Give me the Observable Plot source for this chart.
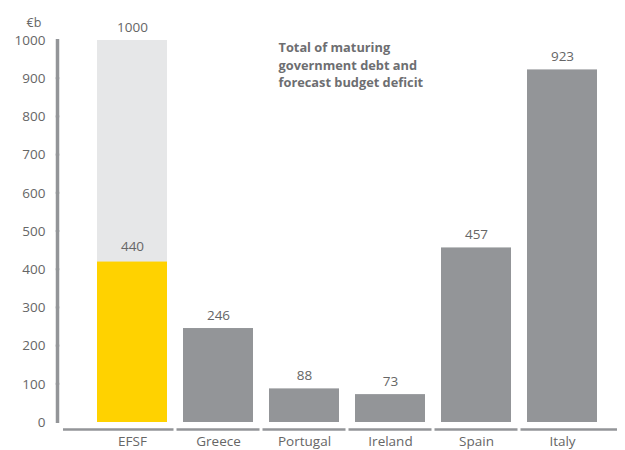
<!DOCTYPE html>
<html>
<head>
<meta charset="utf-8">
<script src="https://cdn.jsdelivr.net/npm/d3@7"></script>
<script src="https://cdn.jsdelivr.net/npm/@observablehq/plot@0.6"></script>
<style>
  html, body { margin: 0; padding: 0; background: #fff; }
  svg { font-family: "Open Sans", sans-serif; }
</style>
</head>
<body>
<div id="chart"></div>
<script>
const categories = ["EFSF", "Greece", "Portugal", "Ireland", "Spain", "Italy"];
const totals = [1000, 246, 88, 73, 457, 923];
const totalLabels = ["1000", "246", "88", "73", "457", "923"];
const efsfCommitted = 420;
const efsfCommittedLabel = "440";
const yTicks = [0, 100, 200, 300, 400, 500, 600, 700, 800, 900, 1000];
const unitLabel = "€b";
const annotation = "Total of maturing\ngovernment debt and\nforecast budget deficit";

const data = categories.map((c, i) => ({cat: c, value: totals[i], label: totalLabels[i]}));
const segments = yTicks.slice(1).map((t, i) => ({y1: yTicks[i], y2: t}));

const grey = "#939598";
const light = "#e6e7e8";
const yellow = "#ffd200";
const textCol = "#666666";

const chart = Plot.plot({
  width: 625,
  height: 450,
  marginLeft: 81,
  marginRight: 12,
  marginTop: 40,
  marginBottom: 28,
  style: {fontFamily: "Open Sans, sans-serif", fontSize: "13px", color: textCol},
  x: {domain: categories, padding: 0.186, label: null},
  y: {domain: [0, 1000], label: null},
  marks: [
    Plot.barY(data, {x: "cat", y: "value", fill: d => d.cat === "EFSF" ? light : grey}),
    Plot.barY([efsfCommitted], {x: () => categories[0], y: d => d, fill: yellow}),
    Plot.text(data, {x: "cat", y: "value", text: "label", dy: -13, fill: textCol, fontSize: 13.5}),
    Plot.text([efsfCommitted], {x: () => categories[0], y: d => d, text: () => efsfCommittedLabel, dy: -15, fill: textCol, fontSize: 13.5}),
    Plot.axisY(yTicks, {tickSize: 0, tickPadding: 36, fontSize: 13.5, fill: textCol, tickFormat: d => String(d)}),
    Plot.ruleX(segments, {x: () => categories[0], y1: "y1", y2: "y2", dx: -75, stroke: grey, strokeWidth: 3.5, insetTop: 1, insetBottom: 1}),
    Plot.axisX({tickSize: 0, tickPadding: 13.5, fontSize: 13.5, fill: textCol}),
    Plot.tickY(categories.filter((c, i) => i > 0 && i < categories.length - 1), {x: d => d, y: () => 0, dy: 7, stroke: grey, strokeWidth: 2.5, insetLeft: -6.5, insetRight: -6.5}),
    Plot.tickY([categories[0]], {x: d => d, y: () => 0, dy: 7, stroke: grey, strokeWidth: 2.5, insetLeft: -34, insetRight: -6.5}),
    Plot.tickY([categories[categories.length - 1]], {x: d => d, y: () => 0, dy: 7, stroke: grey, strokeWidth: 2.5, insetLeft: -6.5, insetRight: -20}),
    Plot.text([unitLabel], {frameAnchor: "top-left", dx: -55, dy: -22, fill: textCol, fontSize: 12.5}),
    Plot.text([annotation], {frameAnchor: "top-left", dx: 197, dy: -1, textAnchor: "start", lineAnchor: "top", lineHeight: 1.38, fontWeight: "bold", fontSize: 12.8, fill: "#6d6e71"})
  ]
});
document.getElementById("chart").appendChild(chart);
</script>
</body>
</html>
